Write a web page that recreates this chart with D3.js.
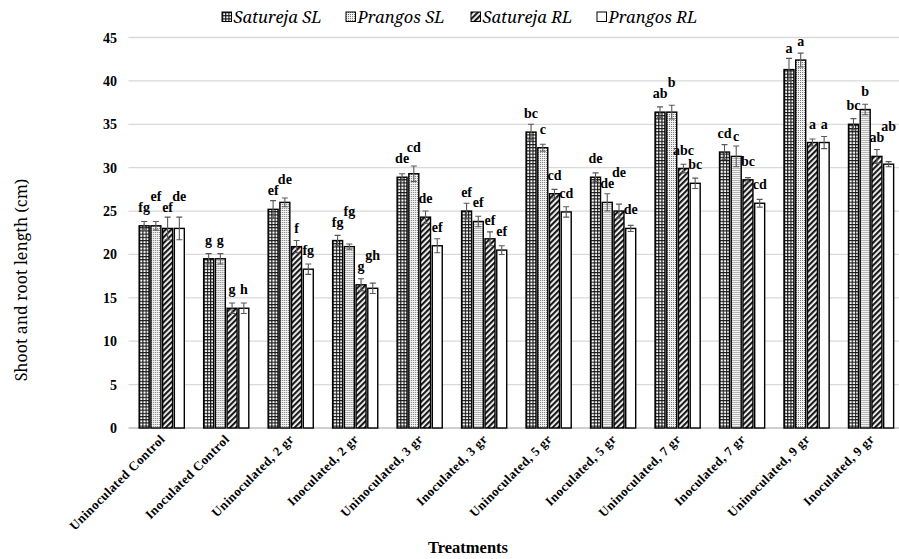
<!DOCTYPE html>
<html>
<head>
<meta charset="utf-8">
<script src="https://cdn.jsdelivr.net/npm/d3@7"></script>
<style>
  body { margin: 0; background: #fff; }
</style>
</head>
<body>
<div id="chart"></div>
<script>
// categories on the x axis
const categories = [
  "Uninoculated Control", "Inoculated Control",
  "Uninoculated, 2 gr", "Inoculated, 2 gr",
  "Uninoculated, 3 gr", "Inoculated, 3 gr",
  "Uninoculated, 5 gr", "Inoculated, 5 gr",
  "Uninoculated, 7 gr", "Inoculated, 7 gr",
  "Uninoculated, 9 gr", "Inoculated, 9 gr"
];
const seriesNames = ["Satureja SL", "Prangos SL", "Satureja RL", "Prangos RL"];

const saturejaSL = [23.3, 19.5, 25.2, 21.6, 28.9, 25.0, 34.1, 28.9, 36.4, 31.8, 41.3, 35.0];
const prangosSL  = [23.3, 19.5, 26.0, 20.9, 29.3, 23.8, 32.3, 26.0, 36.4, 31.3, 42.4, 36.7];
const saturejaRL = [23.0, 13.8, 20.9, 16.5, 24.3, 21.8, 27.0, 25.0, 29.9, 28.6, 32.9, 31.3];
const prangosRL  = [23.0, 13.8, 18.3, 16.1, 21.0, 20.5, 24.9, 23.0, 28.2, 25.9, 32.9, 30.4];

const saturejaSLErr = [0.5, 0.6, 1.0, 0.6, 0.4, 0.9, 0.9, 0.5, 0.6, 0.85, 1.3, 0.65];
const prangosSLErr  = [0.5, 0.6, 0.5, 0.3, 0.9, 0.6, 0.4, 1.0, 0.8, 1.2, 0.8, 0.6];
const saturejaRLErr = [1.3, 0.6, 0.7, 0.7, 0.7, 0.8, 0.5, 0.8, 0.5, 0.25, 0.4, 0.8];
const prangosRLErr  = [1.3, 0.6, 0.6, 0.6, 0.8, 0.5, 0.6, 0.35, 0.6, 0.45, 0.7, 0.3];

const saturejaSLLetters = ["fg", "g", "ef", "fg", "de", "ef", "bc", "de", "ab", "cd", "a", "bc"];
const prangosSLLetters  = ["ef", "g", "de", "fg", "cd", "ef", "c", "de", "b", "c", "a", "b"];
const saturejaRLLetters = ["ef", "g", "f", "g", "de", "ef", "cd", "de", "abc", "bc", "a", "ab"];
const prangosRLLetters  = ["de", "h", "fg", "gh", "ef", "ef", "cd", "de", "bc", "cd", "a", "ab"];

const yTicks = [0, 5, 10, 15, 20, 25, 30, 35, 40, 45];

const values = [saturejaSL, prangosSL, saturejaRL, prangosRL];
const errors = [saturejaSLErr, prangosSLErr, saturejaRLErr, prangosRLErr];
const letters = [saturejaSLLetters, prangosSLLetters, saturejaRLLetters, prangosRLLetters];

const W = 899, H = 559;
const margin = {top: 37.5, right: -4.3, bottom: 131, left: 129.5};
const serif = "'Liberation Serif', 'Times New Roman', serif";
const wideSerif = "'Noto Serif', 'DejaVu Serif', serif";

const svg = d3.select("#chart").append("svg")
  .attr("width", W)
  .attr("height", H)
  .attr("font-family", serif);

const x0 = d3.scaleBand()
  .domain(categories)
  .range([margin.left, W - margin.right])
  .paddingInner(0.3)
  .paddingOuter(0.15);

const x1 = d3.scaleBand()
  .domain(seriesNames)
  .range([0, x0.bandwidth()])
  .paddingInner(0.15);

const y = d3.scaleLinear()
  .domain([0, 45])
  .range([H - margin.bottom, margin.top]);

// fill patterns
const defs = svg.append("defs");

const pGrid = defs.append("pattern")
  .attr("id", "p0").attr("patternUnits", "userSpaceOnUse")
  .attr("width", 3.2).attr("height", 3.2);
pGrid.append("rect").attr("width", 3.2).attr("height", 3.2).attr("fill", "#fff");
pGrid.append("rect").attr("width", 1.1).attr("height", 3.2).attr("fill", "#111");
pGrid.append("rect").attr("width", 3.2).attr("height", 1.1).attr("fill", "#111");

const pDots = defs.append("pattern")
  .attr("id", "p1").attr("patternUnits", "userSpaceOnUse")
  .attr("width", 2).attr("height", 2);
pDots.append("rect").attr("width", 2).attr("height", 2).attr("fill", "#f2f2f2");
pDots.append("rect").attr("width", 1).attr("height", 1).attr("fill", "#7a7a7a");

const pDiag = defs.append("pattern")
  .attr("id", "p2").attr("patternUnits", "userSpaceOnUse")
  .attr("width", 4).attr("height", 4)
  .attr("patternTransform", "rotate(45)");
pDiag.append("rect").attr("width", 4).attr("height", 4).attr("fill", "#fff");
pDiag.append("rect").attr("width", 2.2).attr("height", 4).attr("fill", "#1a1a1a");

// ruler-like dashes, one tile per category step so they start at the bar edge
const step = x0.step();
const pRule = defs.append("pattern")
  .attr("id", "p3").attr("patternUnits", "userSpaceOnUse")
  .attr("x", x0(categories[0])).attr("y", y(0))
  .attr("width", step).attr("height", 8.3);
pRule.append("rect").attr("width", step).attr("height", 8.3).attr("fill", "#fff");
pRule.append("line")
  .attr("x1", x1("Prangos RL")).attr("x2", x1("Prangos RL") + 5.5)
  .attr("y1", 0.7).attr("y2", 0.7)
  .attr("stroke", "#111").attr("stroke-width", 1.3);

// gridlines
svg.append("g")
  .selectAll("line")
  .data(yTicks)
  .join("line")
    .attr("x1", margin.left - 1)
    .attr("x2", W)
    .attr("y1", d => y(d))
    .attr("y2", d => y(d))
    .attr("stroke", d => d === 0 ? "#bfbfbf" : "#d9d9d9")
    .attr("stroke-width", 1.3);

// y tick labels
svg.append("g")
  .selectAll("text")
  .data(yTicks)
  .join("text")
    .attr("x", 117)
    .attr("y", d => y(d) + 5)
    .attr("text-anchor", "end")
    .attr("font-size", 14)
    .attr("font-weight", "bold")
    .text(d => d);

// bars
const groups = svg.append("g")
  .selectAll("g")
  .data(categories)
  .join("g")
    .attr("transform", d => `translate(${x0(d)},0)`);

const cells = groups.selectAll("g")
  .data((c, ci) => seriesNames.map((s, si) => ({
    s, si, v: values[si][ci], e: errors[si][ci], l: letters[si][ci]
  })))
  .join("g");

cells.append("rect")
  .attr("x", d => x1(d.s))
  .attr("y", d => y(d.v))
  .attr("width", x1.bandwidth())
  .attr("height", d => y(0) - y(d.v))
  .attr("fill", d => `url(#p${d.si})`)
  .attr("stroke", "#000")
  .attr("stroke-width", 1.4);

// error bars
const cw = 3;
cells.append("path")
  .attr("d", d => {
    const cx = x1(d.s) + x1.bandwidth() / 2;
    const t = y(d.v + d.e), b = y(d.v - d.e);
    return `M${cx},${t}V${b}M${cx - cw},${t}H${cx + cw}M${cx - cw},${b}H${cx + cw}`;
  })
  .attr("fill", "none")
  .attr("stroke", "#595959")
  .attr("stroke-width", 1.1);

// significance letters
cells.append("text")
  .attr("x", d => x1(d.s) + x1.bandwidth() / 2)
  .attr("y", d => Math.min(y(d.v) - 14, y(d.v + d.e) - 5))
  .attr("text-anchor", "middle")
  .attr("font-size", 14)
  .attr("font-weight", "bold")
  .text(d => d.l);

// push up labels that collide with the one to their left (like excel does)
groups.each(function () {
  let prev = null;
  d3.select(this).selectAll("text").each(function () {
    const t = d3.select(this);
    const w = this.getComputedTextLength();
    const cx = +t.attr("x");
    let ty = +t.attr("y");
    if (prev && Math.abs(cx - prev.cx) < (w + prev.w) / 2 + 1 && Math.abs(ty - prev.y) < 9.5) {
      ty = prev.y - 11;
      t.attr("y", ty);
    }
    prev = {cx, w, y: ty};
  });
});

// x labels
svg.append("g")
  .selectAll("text")
  .data(categories)
  .join("text")
    .attr("transform", d => `translate(${x0(d) + x0.bandwidth() / 2 + 4},440) rotate(-45)`)
    .attr("text-anchor", "end")
    .attr("font-size", 13)
    .attr("font-weight", "bold")
    .attr("letter-spacing", 0.4)
    .text(d => d);

// axis titles
svg.append("text")
  .attr("x", 468)
  .attr("y", 553)
  .attr("text-anchor", "middle")
  .attr("font-size", 16.5)
  .attr("font-weight", "bold")
  .text("Treatments");

svg.append("text")
  .attr("transform", "translate(27,280) rotate(-90)")
  .attr("text-anchor", "middle")
  .attr("font-family", wideSerif)
  .attr("font-size", 16)
  .text("Shoot and root length (cm)");

// legend
const legendX = [222, 346, 471, 597];
const legend = svg.append("g")
  .selectAll("g")
  .data(seriesNames)
  .join("g")
    .attr("transform", (d, i) => `translate(${legendX[i]},12)`);

legend.append("rect")
  .attr("width", 9.5)
  .attr("height", 9.5)
  .attr("fill", (d, i) => `url(#p${i})`)
  .attr("stroke", "#000")
  .attr("stroke-width", 1);

legend.append("text")
  .attr("x", 11.5)
  .attr("y", 10.5)
  .attr("font-family", wideSerif)
  .attr("font-size", 16.5)
  .attr("font-style", "italic")
  .text(d => d);
</script>
</body>
</html>
